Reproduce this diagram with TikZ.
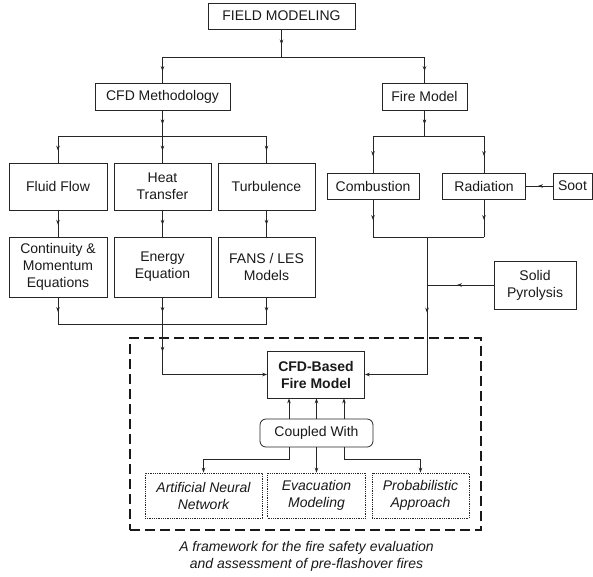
\documentclass[tikz,border=0pt]{standalone}
\usepackage{fontspec}
\setmainfont{Liberation Sans}
\usetikzlibrary{arrows.meta,decorations.markings}
\begin{document}
\begin{tikzpicture}[x=1pt,y=-1pt,
  txt/.style={font=\fontsize{14}{17}\selectfont, text=black!90},
  line/.style={draw=black!85, line width=0.8pt},
  box/.style={txt, draw=black!85, line width=0.8pt, inner sep=0pt, align=center},
  boldbox/.style={box, font=\fontsize{14}{17}\selectfont\bfseries},
  roundbox/.style={box, rounded corners=6pt},
  dotbox/.style={box, densely dotted, font=\fontsize{14}{17}\selectfont\itshape},
  frame/.style={draw=black!90, line width=2.5pt, dash pattern=on 10pt off 5pt, inner sep=0pt},
  tip/.style={-{Stealth[length=5pt,width=3.6pt]}},
  midtip/.style={postaction={decorate}, decoration={markings,
      mark=at position 0.55 with {\arrow{Stealth[length=5pt,width=3.6pt]}}}},
]
\useasboundingbox (0,0) rectangle (593,576);

% ---- nodes ----
\node[box, minimum width=147, minimum height=26] (field) at (281.5,16) {FIELD MODELING};
\node[box, minimum width=135, minimum height=27] (cfd) at (162.5,96.5) {CFD Methodology};
\node[box, minimum width=85, minimum height=27] (fire) at (424.5,96.5) {Fire Model};

\node[box, minimum width=98, minimum height=47] (fluid) at (58,186.5) {Fluid Flow};
\node[box, minimum width=97, minimum height=47] (heat) at (162.5,186.5) {Heat\\Transfer};
\node[box, minimum width=97, minimum height=47] (turb) at (266.5,186.5) {Turbulence};

\node[box, minimum width=92, minimum height=26] (comb) at (373,186) {Combustion};
\node[box, minimum width=83, minimum height=26] (rad) at (484,186) {Radiation};
\node[box, minimum width=39, minimum height=26] (soot) at (572.5,186) {Soot};

\node[box, minimum width=98, minimum height=60] (cont) at (58,267) {Continuity \&\\Momentum\\Equations};
\node[box, minimum width=97, minimum height=60] (energy) at (162.5,267) {Energy\\Equation};
\node[box, minimum width=97, minimum height=60] (fans) at (266.5,267) {FANS / LES\\Models};

\node[box, minimum width=82, minimum height=48] (pyro) at (535,285) {Solid\\Pyrolysis};

\node[frame, minimum width=351, minimum height=192] (fw) at (305.5,434) {};

\node[boldbox, minimum width=97, minimum height=47] (cfdb) at (316,374.5) {CFD-Based\\Fire Model};
\node[roundbox, minimum width=113, minimum height=28] (coupled) at (316.5,433) {Coupled With};

\node[dotbox, minimum width=117, minimum height=45] (ann) at (203.5,495.5) {Artificial Neural\\Network};
\node[dotbox, minimum width=98, minimum height=45] (evac) at (316.5,495.5) {Evacuation\\Modeling};
\node[dotbox, minimum width=97, minimum height=45] (prob) at (420.5,495.5) {Probabilistic\\Approach};

\node[txt, font=\fontsize{14}{17}\selectfont\itshape, align=center] (caption) at (306.5,556.5)
  {A framework for the fire safety evaluation\\and assessment of pre-flashover fires};

% ---- junction points ----
\coordinate (jTop) at (281.5,57);
\coordinate (jCfd) at (162.5,136);
\coordinate (jFire) at (424.5,136);
\coordinate (jEq) at (162.5,324);
\coordinate (cEq) at (162.5,374.5);
\coordinate (jComb) at (427,237);
\coordinate (jPyro) at (427,285);
\coordinate (cFire) at (427,374.5);

% ---- connectors: top level ----
\draw[line,midtip] (field.south) -- (jTop);
\draw[line] (cfd.north |- jTop) -- (fire.north |- jTop);
\draw[line,midtip] (cfd.north |- jTop) -- (cfd.north);
\draw[line,midtip] (fire.north |- jTop) -- (fire.north);

% ---- CFD methodology branch ----
\draw[line,midtip] (cfd.south) -- (jCfd);
\draw[line] (fluid.north |- jCfd) -- (turb.north |- jCfd);
\foreach \n in {fluid,heat,turb}
  \draw[line,midtip] (\n.north |- jCfd) -- (\n.north);
\draw[line,midtip] (fluid.south) -- (cont.north);
\draw[line,midtip] (heat.south) -- (energy.north);
\draw[line,midtip] (turb.south) -- (fans.north);
\draw[line,midtip] (cont.south) -- (cont.south |- jEq);
\draw[line,midtip] (energy.south) -- (jEq);
\draw[line,midtip] (fans.south) -- (fans.south |- jEq);
\draw[line] (cont.south |- jEq) -- (fans.south |- jEq);
\draw[line,midtip] (jEq) -- (cEq);
\draw[line,tip] (cEq) -- (cfdb.west);

% ---- fire model branch ----
\draw[line,midtip] (fire.south) -- (jFire);
\draw[line] (comb.north |- jFire) -- (rad.north |- jFire);
\draw[line,midtip] (comb.north |- jFire) -- (comb.north);
\draw[line,midtip] (rad.north |- jFire) -- (rad.north);
\draw[line,midtip] (soot.west) -- (rad.east);
\draw[line,midtip] (comb.south) -- (comb.south |- jComb);
\draw[line,midtip] (rad.south) -- (rad.south |- jComb);
\draw[line] (comb.south |- jComb) -- (rad.south |- jComb);
\draw[line,midtip] (jComb) -- (cFire);
\draw[line,midtip] (pyro.west) -- (jPyro);
\draw[line,tip] (cFire) -- (cfdb.east);

% ---- coupling ----
\foreach \dx in {-27.5,0,27.5}
  \draw[line,tip] ([xshift=\dx pt]coupled.north) -- ([xshift=\dx pt]coupled.north |- cfdb.south);
\draw[line,tip] ([xshift=-27.5pt]coupled.south) -- ++(0,12) -| (ann.north);
\draw[line,tip] (coupled.south) -- (evac.north);
\draw[line,tip] ([xshift=27.5pt]coupled.south) -- ++(0,12) -| (prob.north);
\end{tikzpicture}
\end{document}
